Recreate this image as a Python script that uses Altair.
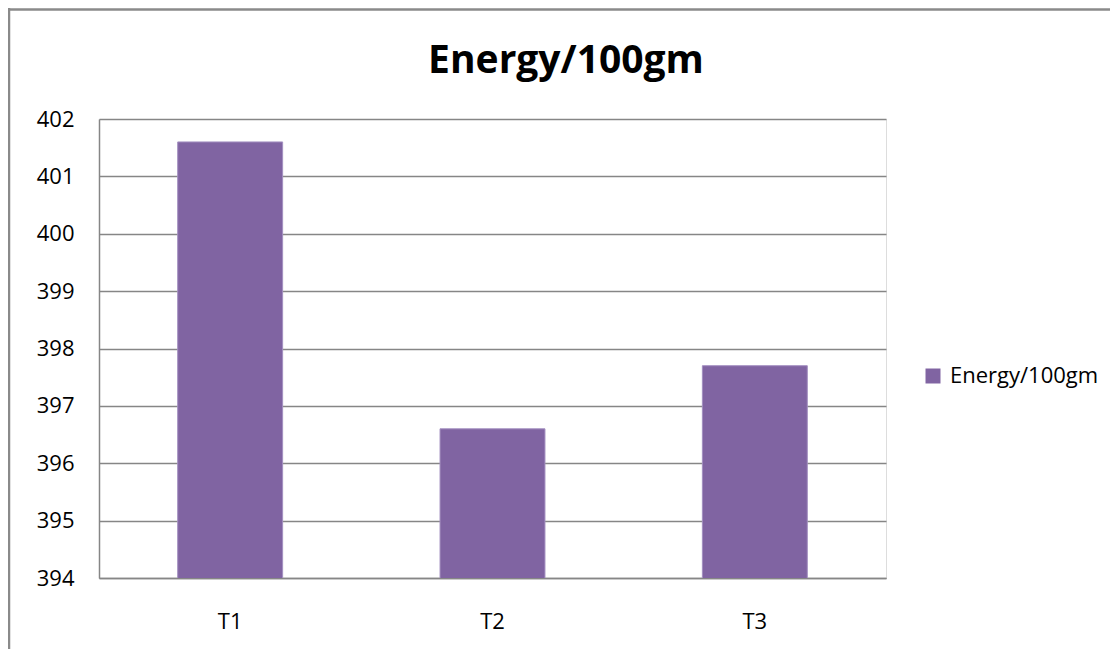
import altair as alt
import pandas as pd

categories = ["T1", "T2", "T3"]
values = [401.6, 396.6, 397.7]
series_name = "Energy/100gm"
y_ticks = [394, 395, 396, 397, 398, 399, 400, 401, 402]

df = pd.DataFrame({"Treatment": categories, "Energy": values,
                   "Series": [series_name] * len(categories)})

FONT = "Open Sans"
GRID = "#868686"

bars = alt.Chart(df).mark_bar(clip=True, stroke="#A38FC0", strokeWidth=1).encode(
    x=alt.X("Treatment:N", sort=categories, title=None,
            scale=alt.Scale(paddingInner=0.6, paddingOuter=0.3),
            axis=alt.Axis(labelAngle=0, ticks=False, domain=True, domainColor=GRID,
                          domainWidth=1.5, labelPadding=33, labelFontSize=22,
                          labelFont=FONT, labelColor="black", grid=False)),
    y=alt.Y("Energy:Q", title=None,
            scale=alt.Scale(domain=[394, 402], zero=False, nice=False),
            axis=alt.Axis(values=y_ticks, ticks=False, grid=True, gridColor=GRID,
                          gridWidth=1.3, domainColor=GRID, domainWidth=1.5,
                          labelPadding=25, labelFontSize=22, labelFont=FONT,
                          labelColor="black")),
    color=alt.Color("Series:N", scale=alt.Scale(range=["#8064A2"]),
                    legend=alt.Legend(title=None, orient="none", legendX=823, legendY=246,
                                      symbolType="square", symbolSize=225,
                                      symbolStrokeWidth=0, labelFontSize=22,
                                      labelFont=FONT, labelColor="black", labelOffset=6)),
)

one = alt.Data(values=[{"title": series_name}])
title_text = alt.Chart(one).mark_text(
    font=FONT, fontSize=39, fontWeight="bold", color="black",
    align="center", baseline="alphabetic").encode(
    text="title:N", x=alt.value(467), y=alt.value(-46))
top_border = alt.Chart(one).mark_rule(color="#8a8a8a", strokeWidth=2.5).encode(
    x=alt.value(-91), x2=alt.value(1011), y=alt.value(-109.5))
left_border = alt.Chart(one).mark_rule(color="#8a8a8a", strokeWidth=2.5).encode(
    x=alt.value(-90), y=alt.value(-111), y2=alt.value(530))

chart = alt.layer(bars, title_text, top_border, left_border).properties(
    width=787, height=459, autosize="none",
    padding={"left": 91, "top": 111, "right": 224, "bottom": 71},
).configure_view(stroke=None).configure(background="white")

chart.save("out.html", embed_options={"renderer": "svg", "actions": False})
